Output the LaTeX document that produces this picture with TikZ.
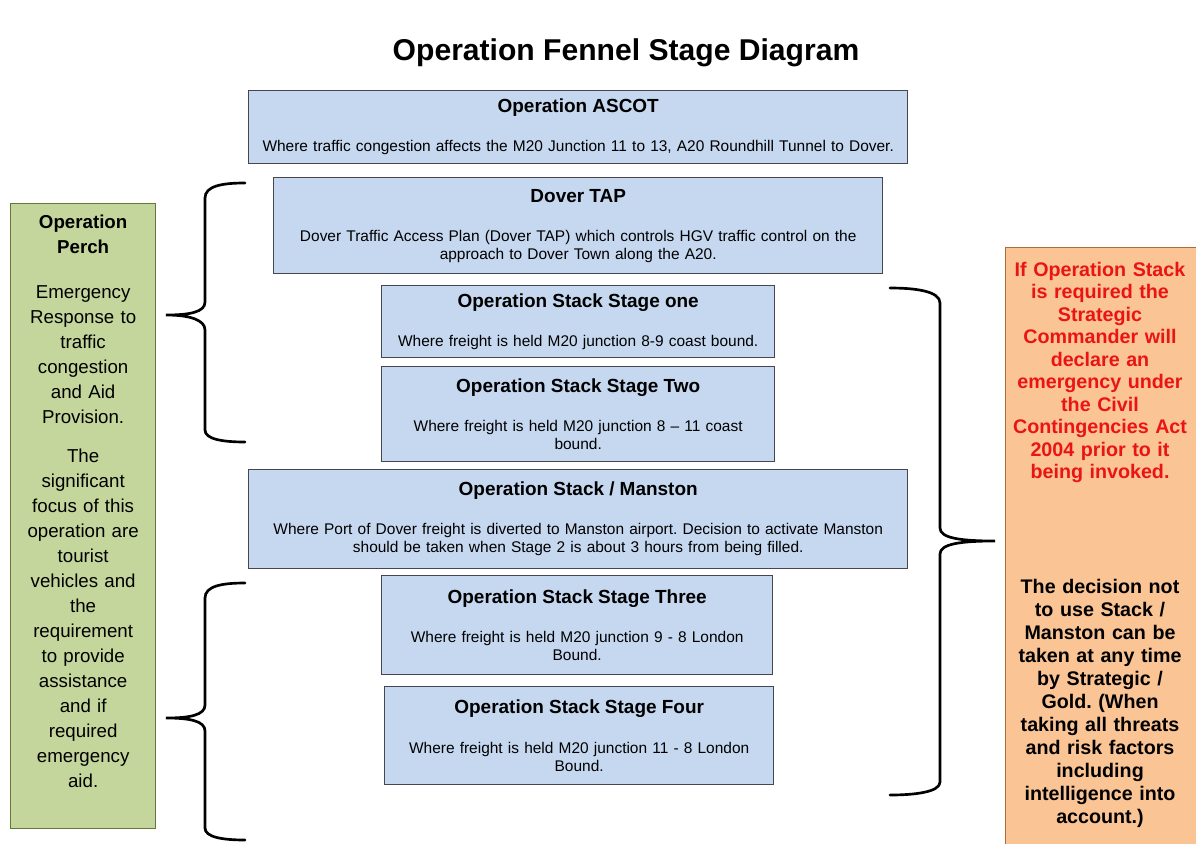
\documentclass[tikz,border=0pt]{standalone}
\usepackage{fontspec}
\setmainfont{Liberation Sans}
\usetikzlibrary{positioning}
\frenchspacing

\definecolor{stageblue}{RGB}{198,216,240}
\definecolor{stageedge}{RGB}{70,70,80}
\definecolor{perchgreen}{RGB}{196,214,155}
\definecolor{perchedge}{RGB}{100,120,60}
\definecolor{stackorange}{RGB}{250,196,148}
\definecolor{stackedge}{RGB}{170,110,60}
\definecolor{declred}{RGB}{235,20,20}

\begin{document}
\begin{tikzpicture}[x=0.025cm,y=-0.025cm,
		stagebox/.style={draw=stageedge,fill=stageblue,line width=0.9pt,inner sep=0pt,anchor=north west,align=center,font=\fontsize{11}{12.8}\selectfont},
		sidebox/.style={line width=0.9pt,inner sep=0pt,anchor=north west},
		brc/.style={line width=1.9pt,line cap=round}]
	\useasboundingbox (0,0) rectangle (1196,843);
	\node[font=\fontsize{21.4}{25}\selectfont\bfseries] (title) at (626,53) {Operation Fennel Stage Diagram};
	\node[stagebox,minimum width=16.475cm,minimum height=1.825cm,text width=16.2cm] (ascot) at (248,90)
		{{\fontsize{13.5}{16}\selectfont\bfseries Operation ASCOT}\\[15pt]Where traffic congestion affects the M20 Junction 11 to 13, A20 Roundhill Tunnel to Dover.};
	\node[stagebox,minimum width=15.225cm,minimum height=2.4cm,text width=14.9cm] (tap) at (273,177)
		{{\fontsize{13.5}{16}\selectfont\bfseries Dover TAP}\\[15pt]Dover Traffic Access Plan (Dover TAP) which controls HGV traffic control on the\\approach to Dover Town along the A20.};
	\node[stagebox,minimum width=9.825cm,minimum height=1.8cm,text width=9.5cm] (stageone) at (381,285)
		{{\fontsize{13.5}{16}\selectfont\bfseries Operation Stack Stage one}\\[15pt]Where freight is held M20 junction 8-9 coast bound.};
	\node[stagebox,minimum width=9.825cm,minimum height=2.375cm,text width=9.5cm] (stagetwo) at (381,366)
		{{\fontsize{13.5}{16}\selectfont\bfseries Operation Stack Stage Two}\\[15pt]Where freight is held M20 junction 8 -- 11 coast\\bound.};
	\node[stagebox,minimum width=16.475cm,minimum height=2.475cm,text width=16.2cm] (manston) at (248,469)
		{{\fontsize{13.5}{16}\selectfont\bfseries Operation Stack / Manston}\\[15pt]Where Port of Dover freight is diverted to Manston airport. Decision to activate Manston\\should be taken when Stage 2 is about 3 hours from being filled.};
	\node[stagebox,minimum width=9.775cm,minimum height=2.475cm,text width=9.5cm] (stagethree) at (381,575)
		{{\fontsize{13.5}{16}\selectfont\bfseries Operation Stack Stage Three}\\[15pt]Where freight is held M20 junction 9 - 8 London\\Bound.};
	\node[stagebox,minimum width=9.725cm,minimum height=2.45cm,text width=9.4cm] (stagefour) at (384,686)
		{{\fontsize{13.5}{16}\selectfont\bfseries Operation Stack Stage Four}\\[15pt]Where freight is held M20 junction 11 - 8 London\\Bound.};

	\node[sidebox,draw=perchedge,fill=perchgreen,minimum width=3.625cm,minimum height=15.625cm] (perch) at (10,203) {};
	\node[below=5pt of perch.north,align=center,text width=3.4cm,font=\fontsize{13.3}{17.8}\selectfont] (perchtxt)
		{{\bfseries Operation\\Perch}\\[14pt]Emergency\\Response to\\traffic\\congestion\\and Aid\\Provision.\\[10pt]The\\significant\\focus of this\\operation are\\tourist\\vehicles and\\the\\requirement\\to provide\\assistance\\and if\\required\\emergency\\aid.};

	\node[sidebox,draw=stackedge,fill=stackorange,minimum width=4.875cm,minimum height=15cm] (stackbox) at (1005,247) {};
	\node[align=center,text width=4.6cm,text=declred,font=\fontsize{14}{16}\selectfont\bfseries] (declare) at (1100,257) [anchor=north]
		{If Operation Stack\\is required the\\Strategic\\Commander will\\declare an\\emergency under\\the Civil\\Contingencies Act\\2004 prior to it\\being invoked.};
	\node[align=center,text width=4.6cm,font=\fontsize{14}{16.4}\selectfont\bfseries] (decision) at (1100,574) [anchor=north]
		{The decision not\\to use Stack /\\Manston can be\\taken at any time\\by Strategic /\\Gold. (When\\taking all threats\\and risk factors\\including\\intelligence into\\account.)};

	\draw[brc] (245,183) .. controls (222,183) and (205,186) .. (205,198) -- (205,302) .. controls (205,312) and (190,315) .. (166,315) .. controls (190,315) and (205,320) .. (205,330) -- (205,430) .. controls (205,439) and (222,442) .. (245,442);
	\draw[brc] (245,583) .. controls (222,583) and (205,586) .. (205,598) -- (205,705) .. controls (205,715) and (190,718) .. (166,718) .. controls (190,718) and (205,721) .. (205,731) -- (205,828) .. controls (205,837) and (222,840) .. (245,840);
	\draw[brc] (890,288) .. controls (915,288) and (940,291) .. (940,303) -- (940,528) .. controls (940,538) and (960,541) .. (995,541) .. controls (960,541) and (940,544) .. (940,554) -- (940,782) .. controls (940,792) and (915,795) .. (890,795);
\end{tikzpicture}
\end{document}
